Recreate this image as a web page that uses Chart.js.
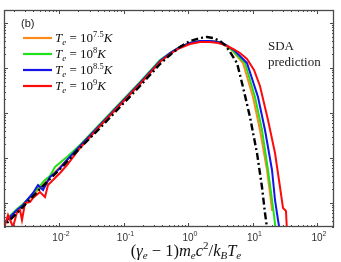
<!DOCTYPE html>
<html>
<head>
<meta charset="utf-8">
<script src="https://cdn.jsdelivr.net/npm/chart.js@4.4.0/dist/chart.umd.min.js"></script>
<style>
  html, body { margin: 0; padding: 0; background: #fff; }
  canvas { display: block; }
</style>
</head>
<body>
<canvas id="chart" width="341" height="262"></canvas>
<script>
// values
const xBlack = [0.001216, 0.002484, 0.00507, 0.01037, 0.02118, 0.04325, 0.0883, 0.1803, 0.3681, 0.526, 0.7516, 1.074, 1.535, 1.971, 2.441, 3.133, 3.747, 4.479, 5.751, 7.122, 9.141, 11.74, 14.03, 15.62, 17.39];
const yBlack = [2.512e-5, 6.988e-5, 2.048e-4, 5.695e-4, 1.668e-3, 4.642e-3, 0.01359, 0.03981, 0.1227, 0.1945, 0.2929, 0.3981, 0.4642, 0.4887, 0.4642, 0.3981, 0.3245, 0.2268, 0.1292, 0.03784, 0.008147, 0.001292, 2.268e-4, 5.995e-5, 1.945e-5];

const xOrange = [0.001306, 0.001738, 0.002484, 0.003548, 0.00507, 0.007244, 0.01037, 0.02118, 0.04325, 0.0883, 0.1803, 0.3681, 0.526, 0.7516, 1.074, 1.535, 2.193, 2.918, 3.747, 4.811, 7.122, 10.18, 13.06, 16.78, 18.68, 20.06, 20.79];
const yOrange = [3.082e-5, 4.887e-5, 8.147e-5, 1.292e-4, 2.154e-4, 3.784e-4, 6.31e-4, 1.848e-3, 5.412e-3, 0.01585, 0.04642, 0.1432, 0.2154, 0.2929, 0.3594, 0.3981, 0.3981, 0.3784, 0.3245, 0.2512, 0.1292, 0.02268, 0.004189, 5.412e-4, 1.668e-4, 6.988e-5, 6.988e-5];

const xGreen = [0.001306, 0.001738, 0.002234, 0.002767, 0.003548, 0.004721, 0.006067, 0.007244, 0.00867, 0.01114, 0.0133, 0.02118, 0.04325, 0.0883, 0.1803, 0.3681, 0.526, 0.7516, 1.074, 1.535, 2.193, 2.918, 3.747, 4.987, 7.649, 10.93, 14.03, 17.39, 20.06, 21.54, 23.13];
const yGreen = [2.929e-5, 5.14e-5, 7.356e-5, 9.5e-5, 1.359e-4, 2.154e-4, 3.245e-4, 4.0e-4, 6.31e-4, 8.58e-4, 1.052e-3, 1.945e-3, 5.699e-3, 0.01668, 0.04887, 0.1506, 0.2154, 0.2929, 0.3594, 0.3981, 0.3981, 0.3784, 0.3245, 0.2387, 0.1292, 0.02268, 0.004189, 5.412e-4, 1.166e-4, 5.412e-5, 2.268e-5];

const xBlue = [0.001306, 0.001738, 0.002234, 0.002767, 0.003306, 0.003953, 0.004721, 0.005649, 0.007244, 0.00867, 0.01037, 0.0133, 0.02118, 0.04325, 0.0883, 0.1803, 0.3681, 0.526, 0.7516, 1.074, 1.535, 2.193, 2.918, 3.881, 5.355, 8.214, 12.17, 15.62, 20.06, 22.33, 24.85, 26.69];
const yBlue = [3.082e-5, 4.887e-5, 6.988e-5, 9.035e-5, 1.227e-4, 1.668e-4, 2.512e-4, 1.945e-4, 3.784e-4, 4.642e-4, 5.995e-4, 9.035e-4, 1.848e-3, 5.412e-3, 0.01585, 0.04642, 0.1432, 0.2154, 0.2929, 0.3594, 0.3981, 0.3981, 0.3784, 0.3245, 0.2387, 0.1292, 0.02268, 0.004189, 5.412e-4, 1.166e-4, 4.189e-5, 2.268e-5];

const xRed = [0.001216, 0.001455, 0.001619, 0.001936, 0.002234, 0.002484, 0.002667, 0.002972, 0.003548, 0.003953, 0.00507, 0.006067, 0.006745, 0.008072, 0.01037, 0.0133, 0.02118, 0.04325, 0.0883, 0.1803, 0.3681, 0.526, 0.7516, 1.074, 1.535, 2.193, 2.918, 3.747, 4.987, 6.401, 8.214, 10.55, 13.06, 17.39, 22.33, 26.69, 29.72, 33.05, 34.27];
const yRed = [2.78e-5, 3.245e-5, 5.412e-5, 2.929e-5, 6.31e-5, 6.988e-5, 4.189e-5, 1.0e-4, 1.052e-4, 1.292e-4, 1.756e-4, 1.359e-4, 2.512e-4, 3.245e-4, 4.642e-4, 6.988e-4, 1.668e-3, 5.142e-3, 0.01506, 0.04409, 0.136, 0.2048, 0.2783, 0.3415, 0.3784, 0.3784, 0.3594, 0.3245, 0.2644, 0.2154, 0.1585, 0.09035, 0.03981, 0.006988, 0.001292, 2.268e-4, 7.743e-5, 6.64e-5, 2.268e-5];

const legendExps = ['7.5', '8', '8.5', '9'];
const xMajorTicks = [0.01, 0.1, 1, 10, 100];
const xTickExps = ['-2', '-1', '0', '1', '2'];
const yMajorTicks = [1e-4, 1e-3, 1e-2, 1e-1, 1];

const pts = (xs, ys) => xs.map((v, i) => ({ x: v, y: ys[i] }));

const serif = '"Liberation Serif", "Times New Roman", serif';
const sans = '"Liberation Sans", Arial, sans-serif';

function rich(ctx, parts, x, y, align) {
  let w = 0;
  parts.forEach(p => { ctx.font = p[1]; w += ctx.measureText(p[0]).width; });
  let cx = align === 'center' ? x - w / 2 : x;
  parts.forEach(p => {
    ctx.font = p[1];
    ctx.fillText(p[0], cx, y + (p[2] || 0));
    cx += ctx.measureText(p[0]).width;
  });
}

const decor = {
  id: 'decor',
  afterDraw(chart) {
    const { ctx, chartArea: a, scales: { x, y } } = chart;
    ctx.save();
    ctx.strokeStyle = '#4a4a4a';
    ctx.lineWidth = 1;
    const seg = (x1, y1, x2, y2) => { ctx.beginPath(); ctx.moveTo(x1, y1); ctx.lineTo(x2, y2); ctx.stroke(); };

    // x ticks, top and bottom, inward
    for (let e = -3; e <= 2; e++) {
      for (let m = 1; m <= 9; m++) {
        const v = m * Math.pow(10, e);
        if (v < x.min || v > x.max) continue;
        const px = Math.round(x.getPixelForValue(v)) + 0.5;
        const len = m === 1 ? 4 : 2;
        seg(px, a.bottom, px, a.bottom - len);
        seg(px, a.top, px, a.top + len);
      }
    }
    // y ticks, left and right, inward
    for (let e = -5; e <= 0; e++) {
      for (let m = 1; m <= 9; m++) {
        const v = m * Math.pow(10, e);
        if (v < y.min || v > y.max) continue;
        const py = Math.round(y.getPixelForValue(v)) + 0.5;
        const len = m === 1 ? 4 : 2;
        seg(a.left, py, a.left + len, py);
        seg(a.right, py, a.right - len, py);
      }
    }
    // frame
    ctx.lineWidth = 1.3;
    ctx.strokeRect(a.left + 0.5, a.top + 0.5, a.right - a.left - 1, a.bottom - a.top - 1);

    // x tick labels
    ctx.fillStyle = '#333';
    ctx.textBaseline = 'alphabetic';
    xMajorTicks.forEach((v, i) => {
      rich(ctx, [['10', '10px ' + sans], [xTickExps[i], '7px ' + sans, -5]], x.getPixelForValue(v) + 2, a.bottom + 14, 'center');
    });

    // x axis title
    ctx.fillStyle = '#111';
    const N = '16.5px ' + serif, I = 'italic 16.5px ' + serif, s = 'italic 11px ' + serif, sn = '11px ' + serif;
    rich(ctx, [['(', N], ['γ', I], ['e', s, 3], [' − 1)', N], ['m', I], ['e', s, 3], ['c', I], ['2', sn, -7],
      ['/', N], ['k', I], ['B', s, 3], ['T', I], ['e', s, 3]], 186, 256, 'center');

    // panel label
    ctx.font = '11px ' + sans;
    ctx.fillStyle = '#222';
    ctx.fillText('(b)', 21, 27);

    // legend
    const rows = [38, 54, 70, 86];
    [1, 2, 3, 4].forEach((di, i) => {
      const ds = chart.data.datasets[di];
      ctx.strokeStyle = ds.borderColor;
      ctx.lineWidth = 2.2;
      seg(23, rows[i], 52, rows[i]);
      ctx.fillStyle = '#111';
      rich(ctx, [['T', 'italic 13px ' + serif], ['e', 'italic 9px ' + serif, 2.5], [' = 10', '13px ' + serif],
        [legendExps[i], '8.5px ' + serif, -5], ['K', 'italic 13px ' + serif]], 55, rows[i] + 4);
    });

    // annotation
    ctx.fillStyle = '#222';
    ctx.font = '13px ' + serif;
    ctx.fillText('SDA', 268, 50);
    ctx.fillText('prediction', 268, 66);
    ctx.restore();
  }
};

const lineDs = (label, xs, ys, color, order, extra) => Object.assign({
  label, data: pts(xs, ys), borderColor: color, borderWidth: 2, pointRadius: 0,
  fill: false, tension: 0, order
}, extra || {});

new Chart(document.getElementById('chart'), {
  type: 'line',
  data: {
    datasets: [
      lineDs('SDA prediction', xBlack, yBlack, '#000', 0, { borderDash: [7, 3, 2, 3], borderWidth: 2.4 }),
      lineDs('Te = 10^7.5 K', xOrange, yOrange, '#ff8a1c', 4),
      lineDs('Te = 10^8 K', xGreen, yGreen, '#22e01e', 3),
      lineDs('Te = 10^8.5 K', xBlue, yBlue, '#1414e6', 2),
      lineDs('Te = 10^9 K', xRed, yRed, '#ff0a0a', 1)
    ]
  },
  options: {
    responsive: false,
    animation: false,
    devicePixelRatio: 1,
    layout: { padding: { left: 4, top: 10, right: 7, bottom: 35 } },
    plugins: { legend: { display: false }, tooltip: { enabled: false } },
    scales: {
      x: { type: 'logarithmic', min: 0.001403, max: 183.5, display: false },
      y: { type: 'logarithmic', min: 2.929e-5, max: 1.945, display: false }
    }
  },
  plugins: [decor]
});
</script>
</body>
</html>
